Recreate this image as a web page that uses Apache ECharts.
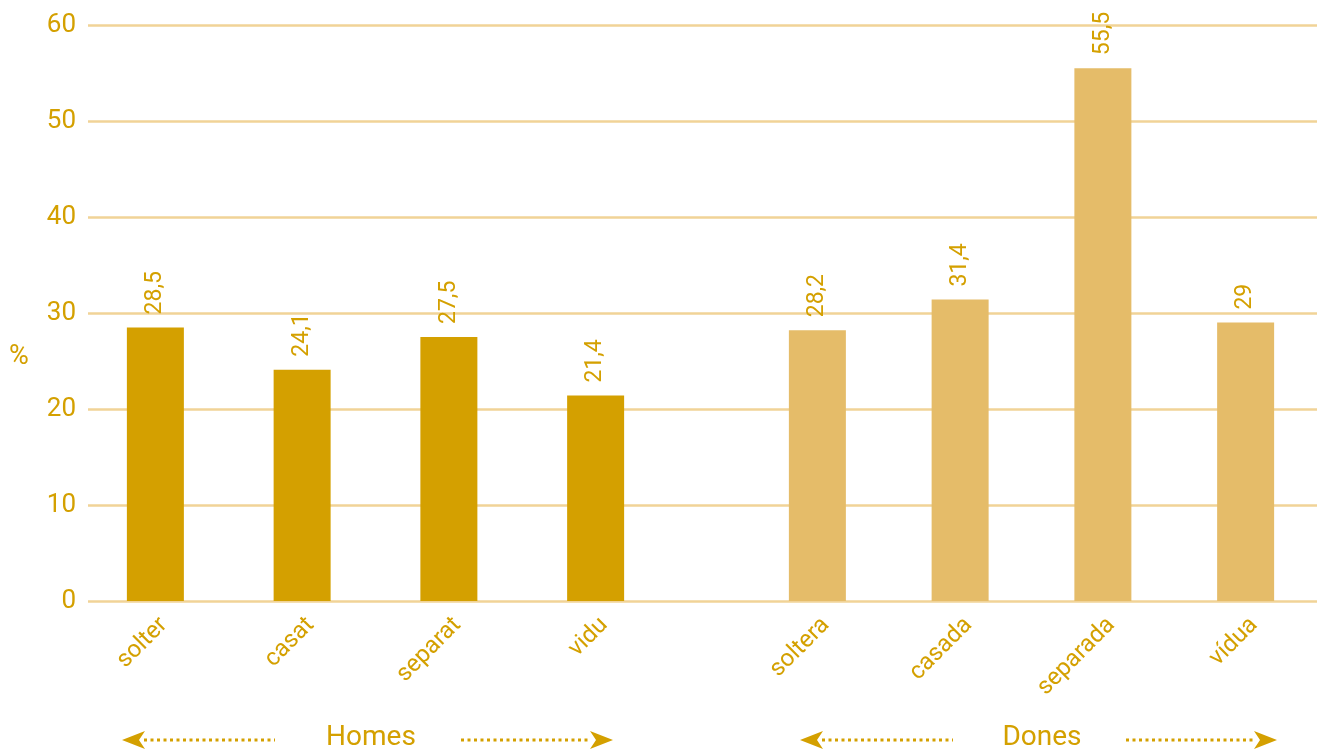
<!DOCTYPE html>
<html>
<head>
<meta charset="utf-8">
<script src="https://cdn.jsdelivr.net/npm/echarts@6/dist/echarts.min.js"></script>
<style>html,body{margin:0;padding:0;background:#fff}#c{width:1317px;height:751px}</style>
</head>
<body>
<div id="c"></div>
<script>
const homesCategories = ['solter', 'casat', 'separat', 'vidu'];
const homesValues = [28.5, 24.1, 27.5, 21.4];
const donesCategories = ['soltera', 'casada', 'separada', 'vídua'];
const donesValues = [28.2, 31.4, 55.5, 29];
const yTicks = [0, 10, 20, 30, 40, 50, 60];
const groupLabels = ['Homes', 'Dones'];

const FONT = 'Roboto, "Liberation Sans", sans-serif';
const TXT = '#D4A000';
const DARK = '#D4A000';
const LIGHT = '#E5BC69';
const GRIDC = '#F1D397';

const chart = echarts.init(document.getElementById('c'));
const fmt = p => String(p.value).replace('.', ',');
const barLabel = {
  show: true, position: 'top', rotate: 90, align: 'left', verticalAlign: 'middle',
  distance: 13, color: TXT, fontFamily: FONT, fontSize: 23, formatter: fmt
};
const xLab = {color: TXT, fontFamily: FONT, fontSize: 24, rotate: 45, margin: 12, interval: 0, verticalAlign: 'top'};

function arrow(x1, x2, y, dir) {
  const els = [];
  if (dir < 0) {
    els.push({type: 'polygon', shape: {points: [[x1, y], [x1 + 23, y - 9], [x1 + 17, y], [x1 + 23, y + 9]]}, style: {fill: DARK}});
    els.push({type: 'line', shape: {x1: x1 + 22, y1: y, x2: x2, y2: y}, style: {stroke: DARK, lineWidth: 3, lineDash: [3, 3.5]}});
  } else {
    els.push({type: 'line', shape: {x1: x1, y1: y, x2: x2 - 22, y2: y}, style: {stroke: DARK, lineWidth: 3, lineDash: [3, 3.5]}});
    els.push({type: 'polygon', shape: {points: [[x2, y], [x2 - 23, y - 9], [x2 - 17, y], [x2 - 23, y + 9]]}, style: {fill: DARK}});
  }
  return els;
}

chart.setOption({
  animation: false,
  grid: [
    {left: 88, right: 0, top: 25, bottom: 150},
    {left: 82, width: 587, top: 25, bottom: 150},
    {left: 746, right: -8, top: 25, bottom: 150}
  ],
  xAxis: [
    {gridIndex: 0, type: 'category', data: [''], show: false},
    {gridIndex: 1, type: 'category', data: homesCategories, axisLine: {show: false}, axisTick: {show: false}, axisLabel: xLab},
    {gridIndex: 2, type: 'category', data: donesCategories, axisLine: {show: false}, axisTick: {show: false}, axisLabel: xLab}
  ],
  yAxis: [
    {gridIndex: 0, type: 'value', min: yTicks[0], max: yTicks[yTicks.length - 1], interval: 10,
      axisLine: {show: false}, axisTick: {show: false},
      axisLabel: {color: TXT, fontFamily: FONT, fontSize: 26, margin: 12},
      splitLine: {lineStyle: {color: GRIDC, width: 2.5}}},
    {gridIndex: 1, type: 'value', min: 0, max: 60, show: false, splitLine: {show: false}},
    {gridIndex: 2, type: 'value', min: 0, max: 60, show: false, splitLine: {show: false}}
  ],
  series: [
    {type: 'bar', xAxisIndex: 1, yAxisIndex: 1, data: homesValues, barWidth: 57, itemStyle: {color: DARK}, label: barLabel},
    {type: 'bar', xAxisIndex: 2, yAxisIndex: 2, data: donesValues, barWidth: 57, itemStyle: {color: LIGHT}, label: barLabel}
  ],
  graphic: [
    {type: 'text', left: 9, top: 344, style: {text: '%', fill: TXT, font: '27px ' + FONT}},
    ...arrow(122, 275, 740, -1),
    {type: 'text', x: 371, y: 738, style: {text: groupLabels[0], fill: TXT, font: '28px ' + FONT, align: 'center', verticalAlign: 'middle'}},
    ...arrow(461, 613, 740, 1),
    ...arrow(800, 953, 740, -1),
    {type: 'text', x: 1042, y: 738, style: {text: groupLabels[1], fill: TXT, font: '28px ' + FONT, align: 'center', verticalAlign: 'middle'}},
    ...arrow(1126, 1277, 740, 1)
  ]
});
</script>
</body>
</html>
